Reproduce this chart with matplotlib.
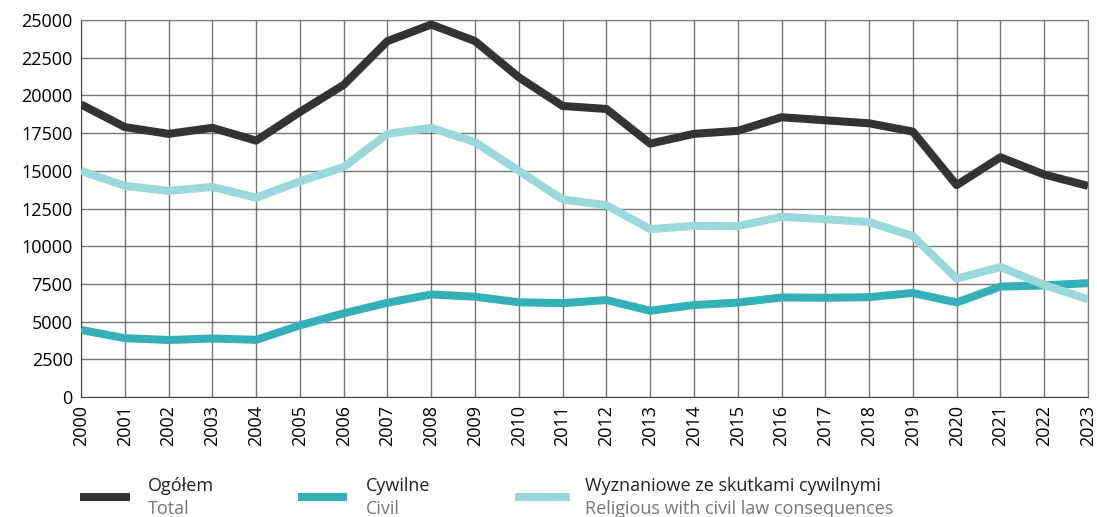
import numpy as np
import matplotlib.pyplot as plt
from matplotlib.lines import Line2D

plt.rcParams['font.family'] = ['Open Sans', 'DejaVu Sans']

years = list(range(2000, 2024))
total = [19400, 17900, 17450, 17850, 17000, 18900, 20700, 23600, 24700, 23600,
         21200, 19300, 19100, 16800, 17450, 17650, 18550, 18350, 18150, 17600,
         14050, 15900, 14750, 14000]
civil = [4450, 3900, 3780, 3880, 3790, 4750, 5550, 6250, 6800, 6650,
         6280, 6220, 6430, 5720, 6100, 6260, 6600, 6580, 6620, 6900,
         6270, 7320, 7400, 7550]
religious = [15000, 14000, 13670, 13930, 13220, 14300, 15250, 17450, 17850, 16900,
             15000, 13100, 12720, 11130, 11350, 11330, 11950, 11790, 11600, 10670,
             7850, 8620, 7430, 6480]

c_total = '#333333'
c_civil = '#36b0b8'
c_rel = '#9ad8d9'

fig = plt.figure(figsize=(10.97, 5.17), dpi=100)
ax = fig.add_axes([81/1097, 1 - 397/517, (1088-81)/1097, (397-20)/517])

lw = 5.8
ax.plot(years, total, color=c_total, lw=lw, solid_capstyle='butt', zorder=3)
ax.plot(years, civil, color=c_civil, lw=lw, solid_capstyle='butt', zorder=3)
ax.plot(years, religious, color=c_rel, lw=lw, solid_capstyle='butt', zorder=3)

ax.set_xlim(2000, 2023)
ax.set_ylim(0, 25000)
ax.set_xticks(years)
ax.set_xticklabels([str(y) for y in years], rotation=90)
ax.set_yticks(np.arange(0, 25001, 2500))
ax.tick_params(length=0, labelsize=13, pad=6)
ax.grid(True, color='#555555', lw=1, alpha=0.8)
for s in ax.spines.values():
    s.set_color('#777777')
ax.spines['left'].set_color('#444444')
ax.spines['bottom'].set_color('#444444')

# legend
entries = [(c_total, 'Ogółem', 'Total', 80, 130, 148),
           (c_civil, 'Cywilne', 'Civil', 298, 347, 366),
           (c_rel, 'Wyznaniowe ze skutkami cywilnymi', 'Religious with civil law consequences', 515, 570, 585)]
for col, pl, en, x0, x1, tx in entries:
    fig.add_artist(Line2D([x0/1097, x1/1097], [1 - 497/517] * 2, color=col, lw=5.8,
                          solid_capstyle='butt', transform=fig.transFigure))
    fig.text(tx/1097, 1 - 486/517, pl, fontsize=13, color='#222222', va='center')
    fig.text(tx/1097, 1 - 509/517, en, fontsize=13, color='#777777', va='center')

fig.savefig('out.png', dpi=100)
